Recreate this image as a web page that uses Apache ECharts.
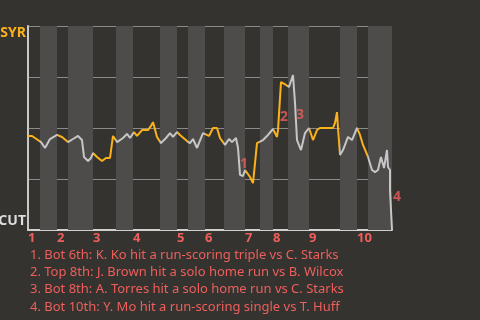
<!DOCTYPE html>
<html>
<head>
<meta charset="utf-8">
<script src="https://cdn.jsdelivr.net/npm/echarts@6/dist/echarts.min.js"></script>
<style>
html,body{margin:0;padding:0;background:#353330;}
#chart{width:480px;height:320px;}
</style>
</head>
<body>
<div id="chart"></div>
<script>
// x = play index, y = SYR win probability
var playX = [0,1,1.75,3.25,4.25,5.5,7.25,8.5,10,11.25,12.5,13.5,14,15,15.75,16.25,17.25,18.5,19.5,20.5,21.25,22.25,23.75,24.75,25.5,26.5,27.25,28.5,30,30.75,31.25,32.25,33.25,34.5,35.5,36.25,37.25,38,39.75,40.5,41.25,42.25,43.75,44.25,45.25,46.25,47.25,48,49.25,50.25,51,52,52.5,53,53.75,54.25,55.5,56.25,57.25,57.75,58.75,60,61.25,62.25,62.5,63.25,64.5,65.25,66.25,66.75,67.25,68.25,69.25,70.25,71.25,72.25,73,76.25,76.75,77.25,77.5,78,78.75,80,81,82.25,83,83.75,85,86,86.75,87.5,88.25,89,89.75,90,90.5,90.5,90.75,91];
var winProb = [0.461,0.461,0.451,0.431,0.402,0.446,0.466,0.456,0.431,0.446,0.461,0.441,0.358,0.338,0.353,0.377,0.358,0.338,0.353,0.353,0.461,0.431,0.451,0.471,0.451,0.480,0.461,0.490,0.490,0.510,0.529,0.456,0.426,0.451,0.475,0.456,0.480,0.466,0.436,0.426,0.446,0.402,0.475,0.480,0.461,0.500,0.500,0.451,0.417,0.446,0.431,0.451,0.402,0.270,0.265,0.294,0.260,0.230,0.426,0.417,0.441,0.466,0.495,0.456,0.490,0.725,0.711,0.701,0.760,0.623,0.441,0.392,0.475,0.500,0.441,0.490,0.500,0.500,0.525,0.578,0.500,0.368,0.392,0.456,0.441,0.500,0.466,0.417,0.358,0.294,0.284,0.294,0.358,0.304,0.392,0.309,0.294,0.196,0.098,0.000];
// half-inning boundaries (play index): top1, bot1, top2, bot2, ...
var halfStarts = [0,3,7.25,10,16.25,22,26.25,33,37.25,40,44.25,49,54.25,58,61.25,65,70.25,78,82.25,85,91];
var inningLabels = ['1','2','3','4','5','6','7','8','9','10'];
var eventNums = ['1','2','3','4'];
var eventX = [54,64,68,92.25];
var eventY = [0.324,0.554,0.564,0.162];
var eventTexts = [
  '1. Bot 6th: K. Ko hit a run-scoring triple vs C. Starks',
  '2. Top 8th: J. Brown hit a solo home run vs B. Wilcox',
  '3. Bot 8th: A. Torres hit a solo home run vs C. Starks',
  '4. Bot 10th: Y. Mo hit a run-scoring single vs T. Huff'
];
var teamTop = 'SYR', teamBottom = 'CUT';

var ORANGE = '#fbb21a', GRAY = '#c6c6c6', RED = '#ee5f5b';
var FONT = 'Noto Sans';

var lineData = playX.map(function(x,i){return [x, winProb[i]];});
var inningStarts = [];
for (var i = 0; i < halfStarts.length - 1; i += 2) inningStarts.push(halfStarts[i]);
var pieces = [], bands = [];
for (var j = 0; j < halfStarts.length - 1; j++) {
  var lo = halfStarts[j], hi = halfStarts[j+1];
  var last = j === halfStarts.length - 2;
  var p = {gte: lo, color: j % 2 === 0 ? ORANGE : GRAY};
  if (!last) p.lt = hi;
  pieces.push(p);
  if (j % 2 === 1) bands.push([{xAxis: lo}, {xAxis: hi}]);
}
pieces[0].gte = -1;

var graphics = [
  {type:'text', x: 26, y: 33, style:{text: teamTop, fill: ORANGE, font: 'bold 14px ' + FONT, textAlign: 'right', textVerticalAlign: 'middle'}},
  {type:'text', x: 26, y: 221, style:{text: teamBottom, fill: '#dcdcdc', font: 'bold 14px ' + FONT, textAlign: 'right', textVerticalAlign: 'middle'}}
];
eventTexts.forEach(function(t,k){
  graphics.push({type:'text', x: 30, y: 255 + k*17.3, style:{text: t, fill: RED, font: '13px ' + FONT, textVerticalAlign: 'middle'}});
});

var chart = echarts.init(document.getElementById('chart'), null, {renderer:'canvas'});
chart.setOption({
  backgroundColor: '#353330',
  animation: false,
  grid: {left: 28, right: 88, top: 26, bottom: 90, containLabel: false},
  xAxis: {
    type: 'value', min: 0, max: 91,
    axisLine: {show: true, lineStyle: {color: '#cfcfcf', width: 2}},
    axisTick: {show: false},
    splitLine: {show: false},
    axisLabel: {
      customValues: inningStarts,
      align: 'left', margin: 2,
      color: RED, fontWeight: 'bold', fontSize: 13, fontFamily: FONT,
      formatter: function(v){ var idx = inningStarts.indexOf(v); return idx >= 0 ? inningLabels[idx] : ''; }
    }
  },
  yAxis: {
    type: 'value', min: 0, max: 1, interval: 0.25,
    axisLine: {show: true, lineStyle: {color: '#c8c8c8', width: 2}},
    axisTick: {show: false},
    axisLabel: {show: false},
    splitLine: {show: true, lineStyle: {color: '#8a8a8a', width: 1}}
  },
  visualMap: {type: 'piecewise', show: false, dimension: 0, seriesIndex: 0, pieces: pieces},
  series: [
    {
      type: 'line', data: lineData, symbol: 'none', lineStyle: {width: 2}, z: 5, clip: false,
      markArea: {silent: true, itemStyle: {color: '#4d4c4a'}, data: bands, z: 1}
    },
    {
      type: 'scatter', symbolSize: 1, itemStyle: {color: 'transparent'}, z: 6, clip: false,
      data: eventX.map(function(x,k){return [x, eventY[k]];}),
      label: {show: true, position: 'inside', color: RED, fontWeight: 'bold', fontSize: 14, fontFamily: FONT,
        formatter: function(p){return eventNums[p.dataIndex];}}
    }
  ],
  graphic: graphics
});
</script>
</body>
</html>
